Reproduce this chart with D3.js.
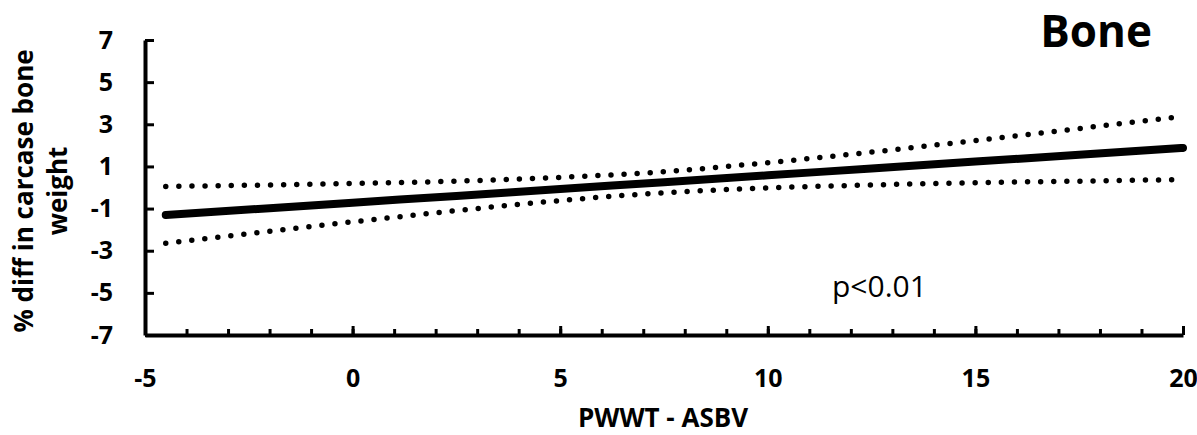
<!DOCTYPE html>
<html>
<head>
<meta charset="utf-8">
<script src="https://cdn.jsdelivr.net/npm/d3@7"></script>
<style>
  body { margin: 0; background: #fff; }
  svg text { font-family: "Open Sans", sans-serif; fill: #000; }
</style>
</head>
<body>
<div id="chart_area"></div>
<script>
// values
var xValues = [-4.5, -2, 0, 2.5, 5, 7.5, 10, 12.5, 15, 17.5, 20];
var fitted  = [-1.30, -0.98, -0.72, -0.40, -0.07, 0.25, 0.58, 0.90, 1.23, 1.55, 1.88];
var upperCI = [0.05, 0.12, 0.19, 0.30, 0.48, 0.75, 1.18, 1.68, 2.23, 2.80, 3.38];
var lowerCI = [-2.65, -2.08, -1.63, -1.10, -0.62, -0.25, -0.02, 0.12, 0.23, 0.30, 0.38];
var xTicks = [-5, 0, 5, 10, 15, 20];
var xMinorTicks = [-5, -4, -3, -2, -1, 0, 1, 2, 3, 4, 5, 6, 7, 8, 9, 10, 11, 12, 13, 14, 15, 16, 17, 18, 19, 20];
var yTicks = [-7, -5, -3, -1, 1, 3, 5, 7];

var width = 1197, height = 435;
var margin = { top: 40, right: 14, bottom: 100, left: 145 };

var svg = d3.select("#chart_area")
    .append("svg")
    .attr("width", width)
    .attr("height", height);

var x = d3.scaleLinear()
    .domain([-5, 20])
    .range([margin.left, width - margin.right]);

var y = d3.scaleLinear()
    .domain([-7, 7])
    .range([height - margin.bottom, margin.top]);

// plain hyphen for negatives, like the original
var fmt = function (d) { return String(d); };

// minor x ticks (no labels)
svg.append("g")
    .attr("transform", "translate(0," + y(-7) + ")")
    .call(d3.axisBottom(x).tickValues(xMinorTicks).tickSize(-6).tickSizeOuter(0).tickFormat(""))
    .call(function (g) {
        g.select(".domain").remove();
        g.selectAll(".tick line").attr("stroke", "#000").attr("stroke-width", 3);
    });

// major x ticks + labels
svg.append("g")
    .attr("transform", "translate(0," + y(-7) + ")")
    .call(d3.axisBottom(x).tickValues(xTicks).tickSize(-9).tickSizeOuter(0).tickPadding(52).tickFormat(fmt))
    .call(function (g) {
        g.select(".domain").attr("stroke", "#000").attr("stroke-width", 4);
        g.selectAll(".tick line").attr("stroke", "#000").attr("stroke-width", 3);
        g.selectAll(".tick text")
            .attr("dy", 0)
            .style("font-size", "25px")
            .style("font-weight", "bold");
    });

// y axis
svg.append("g")
    .attr("transform", "translate(" + x(-5) + ",0)")
    .call(d3.axisLeft(y).tickValues(yTicks).tickSize(-9).tickSizeOuter(0).tickPadding(32).tickFormat(fmt))
    .call(function (g) {
        g.select(".domain").attr("stroke", "#000").attr("stroke-width", 4);
        g.selectAll(".tick line").attr("stroke", "#000").attr("stroke-width", 3);
        g.selectAll(".tick text")
            .style("font-size", "25px")
            .style("font-weight", "bold");
    });

var line = function (vals) {
    return d3.line()
        .x(function (d, i) { return x(xValues[i]); })
        .y(function (d) { return y(d); })
        .curve(d3.curveMonotoneX)(vals);
};

// confidence bands (dotted)
[upperCI, lowerCI].forEach(function (band) {
    svg.append("path")
        .attr("d", line(band))
        .attr("fill", "none")
        .attr("stroke", "#000")
        .attr("stroke-width", 5.5)
        .attr("stroke-linecap", "round")
        .attr("stroke-dasharray", "0 13.1");
});

// fitted line
svg.append("path")
    .attr("d", line(fitted))
    .attr("fill", "none")
    .attr("stroke", "#000")
    .attr("stroke-width", 8)
    .attr("stroke-linecap", "round");

// titles
svg.append("text")
    .attr("x", 663)
    .attr("y", 427)
    .attr("text-anchor", "middle")
    .style("font-size", "26px")
    .style("font-weight", "bold")
    .text("PWWT - ASBV");

var yTitle = svg.append("text")
    .attr("transform", "translate(0,191) rotate(-90)")
    .attr("text-anchor", "middle")
    .style("font-size", "26px")
    .style("font-weight", "bold");
yTitle.append("tspan").attr("x", 0).attr("y", 33).text("% diff in carcase bone");
yTitle.append("tspan").attr("x", 0).attr("y", 67).text("weight");

svg.append("text")
    .attr("x", 1152)
    .attr("y", 47)
    .attr("text-anchor", "end")
    .style("font-size", "44px")
    .style("font-weight", "bold")
    .text("Bone");

svg.append("text")
    .attr("x", 832)
    .attr("y", 297)
    .style("font-size", "30px")
    .text("p<0.01");
</script>
</body>
</html>
